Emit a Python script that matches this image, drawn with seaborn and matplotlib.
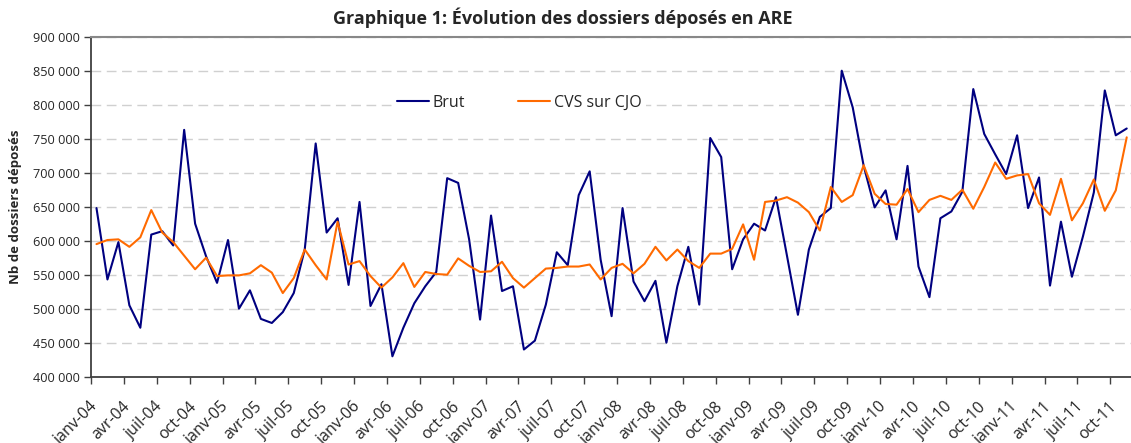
import matplotlib
matplotlib.use("Agg")
import matplotlib.pyplot as plt
import matplotlib.ticker as mticker
from matplotlib.transforms import ScaledTranslation
import pandas as pd
import seaborn as sns

# mois affichés (janv-04 ... nov-11)
mois = ["janv", "févr", "mars", "avr", "mai", "juin", "juil", "août", "sept", "oct", "nov", "déc"]
annees = ["04", "05", "06", "07", "08", "09", "10", "11"]
periodes = [f"{m}-{a}" for a in annees for m in mois][:95]

# nombre de dossiers déposés, en milliers
brut = [648, 543, 598, 505, 472, 609, 614, 593, 763, 625, 577, 538,
        601, 500, 527, 485, 479, 495, 523, 587, 743, 612, 633, 535,
        657, 504, 536, 430, 472, 508, 533, 554, 692, 685, 602, 484,
        637, 526, 533, 440, 453, 506, 583, 564, 667, 702, 572, 489,
        648, 540, 511, 541, 450, 533, 591, 506, 751, 723, 558, 602,
        625, 615, 664, 578, 491, 587, 635, 648, 850, 796, 710, 649,
        674, 602, 710, 562, 517, 633, 643, 672, 823, 757, 727, 698,
        755, 648, 693, 534, 628, 547, 606, 671, 821, 755, 765]
cvs = [595, 601, 602, 591, 605, 645, 612, 598, 578, 558, 575, 548,
       549, 549, 552, 564, 553, 523, 545, 587, 564, 543, 628, 565,
       570, 548, 531, 546, 567, 532, 554, 551, 550, 574, 563, 554,
       555, 569, 545, 531, 545, 559, 560, 562, 562, 565, 543, 560,
       566, 552, 566, 591, 571, 587, 570, 560, 581, 581, 588, 624,
       572, 657, 659, 664, 656, 642, 615, 679, 657, 667, 711, 669,
       654, 653, 676, 642, 660, 666, 660, 675, 647, 679, 715, 691,
       696, 698, 655, 638, 691, 630, 655, 690, 644, 674, 752]

df = pd.DataFrame({"pos": range(len(periodes)), "periode": periodes,
                   "Brut": [v * 1000 for v in brut],
                   "CVS sur CJO": [v * 1000 for v in cvs]})

sns.set_style("white")
plt.rcParams["font.family"] = ["Open Sans", "DejaVu Sans"]

fig = plt.figure(figsize=(11.31, 4.43), dpi=100)
ax = fig.add_axes([91 / 1131, (443 - 376.7) / 443, (1131 - 91) / 1131, 340 / 443])

sns.lineplot(data=df, x="pos", y="Brut", color="#000080", linewidth=1.5, label="Brut", ax=ax)
sns.lineplot(data=df, x="pos", y="CVS sur CJO", color="#FF6A00", linewidth=1.5, label="CVS sur CJO", ax=ax)

ax.set_ylim(400000, 900000)
ax.set_xlim(-0.5, -0.5 + 1040 / 10.96)
ax.yaxis.set_major_locator(mticker.MultipleLocator(50000))
ax.yaxis.set_major_formatter(mticker.FuncFormatter(lambda v, p: f"{int(v):,}".replace(",", " ")))
ax.grid(axis="y", color="#d0d0d0", linestyle=(0, (7, 4)), linewidth=1.0)
ax.set_axisbelow(True)

# ticks between categories, labels every 3 months
ax.set_xticks([i - 0.5 for i in range(0, 94, 3)])
ax.set_xticklabels([])
lab_pos = list(range(0, 94, 3))
ax.set_xticks(lab_pos, minor=True)
ax.set_xticklabels([periodes[i] for i in lab_pos], minor=True, rotation=45,
                   ha="right", va="top", rotation_mode="anchor", fontsize=11.5)
ax.tick_params(axis="x", which="major", direction="out", length=5, width=1, color="#404040", bottom=True)
ax.tick_params(axis="x", which="minor", length=0, pad=15.5)
ax.tick_params(axis="y", direction="out", length=5, width=1, color="#404040", left=True, labelsize=9.2, pad=3)
off = ScaledTranslation(-7 / 100, 0, fig.dpi_scale_trans)
for lbl in ax.get_xticklabels(minor=True):
    lbl.set_transform(lbl.get_transform() + off)

for s in ["left", "bottom"]:
    ax.spines[s].set_color("#404040")
    ax.spines[s].set_linewidth(1.3)
ax.spines["top"].set_color("#888888")
ax.spines["top"].set_linewidth(1.5)
ax.spines["right"].set_visible(False)

ax.set_xlabel("")
ax.set_ylabel("Nb de dossiers déposés", fontsize=9.5, fontweight="bold", labelpad=8)

leg = ax.legend(loc="center left", bbox_to_anchor=((392 - 91) / 1040, (376.7 - 103) / 340),
                ncol=2, frameon=True, fancybox=False, fontsize=11.5, handlelength=2.0,
                handletextpad=0.25, columnspacing=3.3, borderaxespad=0, borderpad=0.3)
leg.get_frame().set_facecolor("white")
leg.get_frame().set_edgecolor("none")
leg.get_frame().set_alpha(1)

fig.text(563 / 1131, 1 - 18 / 443, "Graphique 1: Évolution des dossiers déposés en ARE",
         ha="center", va="center", fontsize=13, fontweight="bold")

fig.savefig("out.png", dpi=100)
